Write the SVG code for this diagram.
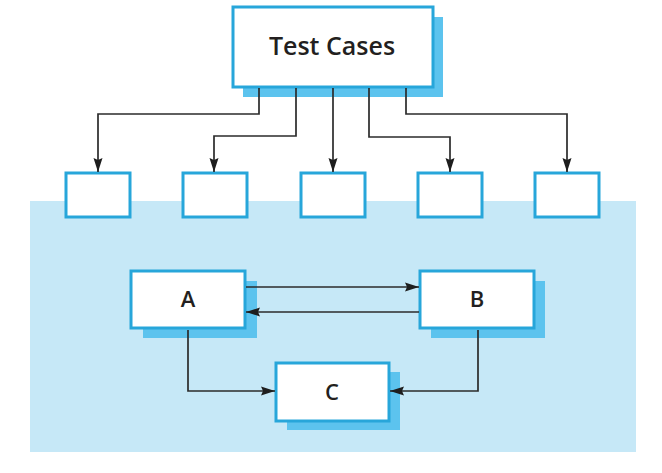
<svg xmlns="http://www.w3.org/2000/svg" width="662" height="473" viewBox="0 0 662 473">
<style>
.box{fill:#fff;stroke:#27a6da;stroke-width:3}
.shadow{fill:#5cc3ee}
.lbl{font-family:"Open Sans","DejaVu Sans",sans-serif;font-weight:600;fill:#231f20;text-anchor:middle}
.conn{fill:none;stroke:#2b2b2b;stroke-width:1.7}
</style>
<defs>
<marker id="ah" viewBox="0 0 14 10" refX="14" refY="5" markerWidth="14" markerHeight="10" markerUnits="userSpaceOnUse" orient="auto">
<path d="M0,0.5 L14,5 L0,9.5 L2,5 Z" fill="#1e1e1e"/>
</marker>
</defs>
<rect width="662" height="473" fill="#fff"/>
<rect x="30" y="201" width="606" height="251" fill="#c6e8f7"/>
<g id="testcases">
<rect class="shadow" x="243" y="17" width="200" height="80"/>
<rect class="box" x="233" y="7" width="200" height="80"/>
<text class="lbl" x="332" y="55" font-size="25">Test Cases</text>
</g>
<g id="t1"><rect class="box" x="66" y="173" width="64" height="44"/></g>
<g id="t2"><rect class="box" x="183" y="173" width="64" height="44"/></g>
<g id="t3"><rect class="box" x="301" y="173" width="64" height="44"/></g>
<g id="t4"><rect class="box" x="418" y="173" width="64" height="44"/></g>
<g id="t5"><rect class="box" x="535" y="173" width="64" height="44"/></g>
<g id="A">
<rect class="shadow" x="143" y="281" width="114" height="57"/>
<rect class="box" x="131" y="271" width="114" height="57"/>
<text class="lbl" x="188" y="307" font-size="22">A</text>
</g>
<g id="B">
<rect class="shadow" x="431" y="281" width="114" height="57"/>
<rect class="box" x="420" y="271" width="114" height="57"/>
<text class="lbl" x="477" y="307" font-size="22">B</text>
</g>
<g id="C">
<rect class="shadow" x="287" y="372" width="113" height="58"/>
<rect class="box" x="276" y="363" width="113" height="58"/>
<text class="lbl" x="332" y="400" font-size="22">C</text>
</g>
<g id="connectors">
<path class="conn" d="M259,88 V114 H98 V172" marker-end="url(#ah)"/>
<path class="conn" d="M296,88 V136 H214 V172" marker-end="url(#ah)"/>
<path class="conn" d="M333,88 V172" marker-end="url(#ah)"/>
<path class="conn" d="M369,88 V137 H450 V172" marker-end="url(#ah)"/>
<path class="conn" d="M406,88 V114 H567 V172" marker-end="url(#ah)"/>
<path class="conn" d="M246,287 H419" marker-end="url(#ah)"/>
<path class="conn" d="M419,312 H246" marker-end="url(#ah)"/>
<path class="conn" d="M188,330 V391 H275" marker-end="url(#ah)"/>
<path class="conn" d="M478,330 V391 H390" marker-end="url(#ah)"/>
</g>
</svg>
